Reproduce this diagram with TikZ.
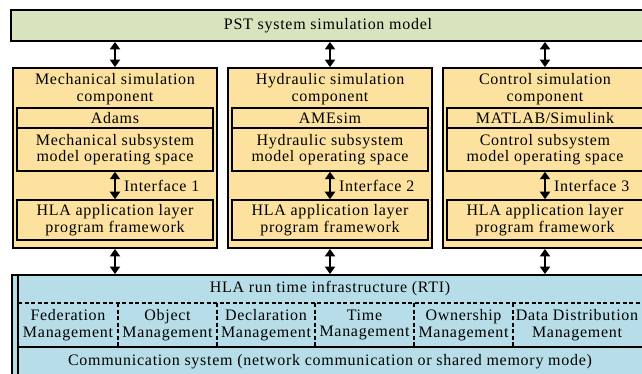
\documentclass[tikz,border=0pt]{standalone}
\usepackage{fontspec}
\setmainfont{Liberation Serif}
\newfontfamily\tfont[LetterSpace=4.5]{Liberation Serif}
\usetikzlibrary{arrows.meta}
\definecolor{topgreen}{RGB}{215,228,189}
\definecolor{compyel}{RGB}{252,226,158}
\definecolor{rtiblue}{RGB}{183,222,232}
\begin{document}
\begin{tikzpicture}[x=1pt,y=-1pt,
  txt/.style={font=\tfont\fontsize{16}{16.5}\selectfont, align=center, inner sep=0},
  topbox/.style={draw, line width=1.8pt, fill=topgreen, minimum width=634pt, minimum height=31pt, inner sep=0, txt},
  outerbox/.style={draw, line width=1.8pt, fill=compyel, minimum width=204pt, minimum height=180pt, inner sep=0},
  innerbox/.style={draw, line width=1.5pt, fill=compyel, minimum width=196pt, inner sep=0, txt},
  cell/.style={minimum width=99pt, minimum height=44pt, inner sep=0, txt},
  dbl/.style={line width=2pt, {Triangle[length=7.5pt,width=10pt]}-{Triangle[length=7.5pt,width=10pt]}},
  sep/.style={line width=1.5pt, dash pattern=on 4pt off 2.5pt}
]
\useasboundingbox (0,0) rectangle (642,374);
\clip (0,0) rectangle (642,374);

% top model
\node[topbox] (top) at (328,25.5) {PST system simulation model};

% components
\foreach \n/\cx/\title/\tool/\sub/\k in {
  1/115/Mechanical/Adams/Mechanical/1,
  2/330/Hydraulic/AMEsim/Hydraulic/2,
  3/545/Control/MATLAB\slash Simulink/Control/3}{
  \node[outerbox] (c\n) at (\cx,158) {};
  \node[txt] (t\n) at (\cx,89) {\title\ simulation\\component};
  \node[innerbox, minimum height=20pt] (a\n) at (\cx,118) {\tool};
  \node[innerbox, minimum height=43pt] (s\n) at (\cx,149.5) {\sub\ subsystem\\model operating space};
  \node[innerbox, minimum height=40pt] (h\n) at (\cx,220) {HLA application layer\\program framework};
  \draw[dbl] (s\n.south) -- (h\n.north)
    node[midway, anchor=west, xshift=8pt, txt] {Interface \k};
}

% RTI box
\node[draw, line width=1.8pt, fill=rtiblue, minimum width=632pt, minimum height=105pt, inner sep=0] (rti) at (328,327.5) {};
\coordinate (il1) at (18,275);
\coordinate (il2) at (18,380);
\draw[line width=1.5pt] (il1) -- (il2);
\node[txt] (rtit) at (330,289) {HLA run time infrastructure (RTI)};
\coordinate (d1) at (18,303);
\coordinate (d2) at (644,303);
\draw[sep] (d1) -- (d2);
\coordinate (m1) at (18,347);
\coordinate (m2) at (644,347);
\draw[line width=1.5pt] (m1) -- (m2);

\node[cell] (f1) at (68,325) {Federation\\Management};
\node[cell] (f2) at (167.5,325) {Object\\Management};
\node[cell] (f3) at (266,325) {Declaration\\Management};
\node[cell] (f4) at (364.5,325) {Time\\Management};
\node[cell] (f5) at (463.5,325) {Ownership\\Management};
\node[cell] (f6) at (577,325) {Data Distribution\\Management};
\foreach \x in {118,217,315,414,513}{
  \coordinate (va) at (\x,303);
  \coordinate (vb) at (\x,347);
  \draw[sep] (va) -- (vb);
}
\node[txt] (comm) at (330,362) {Communication system (network communication or shared memory mode)};

% arrows
\foreach \n in {1,2,3}{
  \draw[dbl] (c\n.north |- top.south) -- (c\n.north);
  \draw[dbl] (c\n.south) -- (c\n.south |- rti.north);
}
\end{tikzpicture}
\end{document}
